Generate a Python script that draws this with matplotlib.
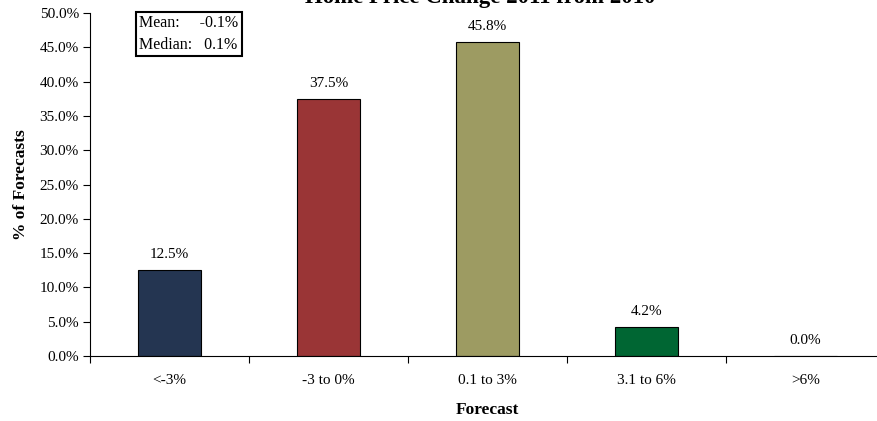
import matplotlib
matplotlib.use("Agg")
import matplotlib.pyplot as plt
from matplotlib.ticker import PercentFormatter, FixedLocator

plt.rcParams["font.family"] = ["Liberation Serif", "DejaVu Serif"]

# data
categories = ["<-3%", "-3 to 0%", "0.1 to 3%", "3.1 to 6%", ">6%"]
shares = [12.5, 37.5, 45.8, 4.2, 0.0]
bar_colors = ["#243551", "#9a3536", "#9d9b62", "#006633", "#6b7fb0"]
stats_text = "Mean:     -0.1%\nMedian:   0.1%"

fig = plt.figure(figsize=(8.77, 4.21), dpi=100)
ax = fig.add_axes([90 / 877, 1 - 356 / 421, 795 / 877, 343 / 421])

x = range(len(categories))
bars = ax.bar(x, shares, width=0.4, color=bar_colors, edgecolor="black", linewidth=0.8)

for xi, v in zip(x, shares):
    ax.text(xi, v + 1.3, f"{v:.1f}%", ha="center", va="bottom", fontsize=11)

ax.set_xlim(-0.5, 4.5)
ax.set_ylim(0, 50)
ax.set_yticks([i * 5 for i in range(11)])
ax.yaxis.set_major_formatter(PercentFormatter(decimals=1))

# labels at category centres, tick marks at the boundaries
ax.set_xticks(list(x))
ax.set_xticklabels(categories)
ax.xaxis.set_minor_locator(FixedLocator([i - 0.5 for i in range(len(categories) + 1)]))
ax.tick_params(axis="x", which="major", length=0, pad=13, labelsize=11)
ax.tick_params(axis="x", which="minor", length=5, direction="out", width=0.8)
ax.tick_params(axis="y", length=5, direction="out", width=0.8, labelsize=11, pad=3)

for s in ["top", "right"]:
    ax.spines[s].set_visible(False)
ax.spines["left"].set_linewidth(0.8)
ax.spines["bottom"].set_linewidth(0.8)

ax.set_xlabel("Forecast", fontsize=12.5, fontweight="bold", labelpad=11)
ax.set_ylabel("% of Forecasts", fontsize=12.5, fontweight="bold", labelpad=8)

# title sits mostly above the canvas, as in the original export
fig.text(480 / 877, 1 - 2.5 / 421, "Home Price Change 2011 from 2010", ha="center",
         va="baseline", fontsize=16.5, fontweight="bold")

ax.text(0.062, 0.993, stats_text, transform=ax.transAxes, ha="left", va="top",
        fontsize=11.5, linespacing=1.45,
        bbox=dict(boxstyle="square,pad=0.2", facecolor="white", edgecolor="black", linewidth=1.5))

fig.savefig("out.png", dpi=100)
